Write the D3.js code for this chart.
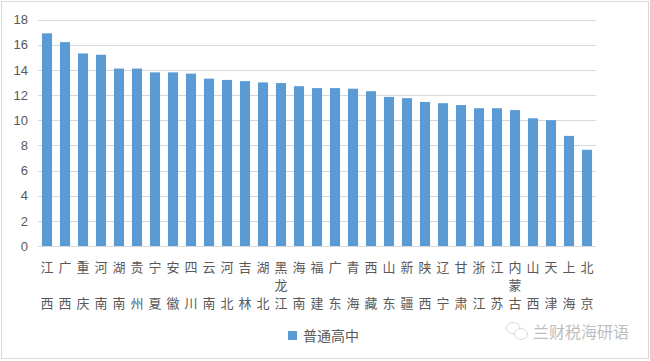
<!DOCTYPE html>
<html><head><meta charset="utf-8">
<script src="https://cdn.jsdelivr.net/npm/d3@7"></script>
<style>body{margin:0;background:#fff;}svg{display:block;font-family:"Noto Sans CJK SC","Microsoft YaHei",sans-serif;}</style>
</head><body><svg id="c" width="650" height="361"></svg>
<script>
const categories = ["江西","广西","重庆","河南","湖南","贵州","宁夏","安徽","四川","云南","河北","吉林","湖北","黑龙江","海南","福建","广东","青海","西藏","山东","新疆","陕西","辽宁","甘肃","浙江","江苏","内蒙古","山西","天津","上海","北京"];
const values = [16.9,16.2,15.3,15.2,14.1,14.1,13.8,13.8,13.7,13.3,13.2,13.1,13.0,12.95,12.7,12.55,12.55,12.5,12.3,11.85,11.75,11.45,11.35,11.2,10.95,10.95,10.8,10.15,10.0,8.75,7.65];
const yTicks = [0,2,4,6,8,10,12,14,16,18];
const seriesName = "普通高中";
const watermark = "兰财税海研语";

const svg = d3.select("#c");
svg.append("rect").attr("x",1.5).attr("y",1.5).attr("width",647).attr("height",357)
  .attr("fill","#fff").attr("stroke","#d9d9d9").attr("stroke-width",1);

const L=38, R=596, T=19.5, B=246;
const x = d3.scaleBand().domain(categories).range([L,R]).paddingInner(0.44).paddingOuter(0.22);
const y = d3.scaleLinear().domain([0,18]).range([B,T]);

const g = svg.append("g");
g.selectAll("line.grid").data(yTicks).join("line")
  .attr("x1",L).attr("x2",R).attr("y1",d=>Math.round(y(d))+0.5).attr("y2",d=>Math.round(y(d))+0.5)
  .attr("stroke","#d9d9d9").attr("stroke-width",1);

const yAxis = d3.axisLeft(y).tickValues(yTicks).tickSize(0).tickPadding(0);
const ya = svg.append("g").attr("transform",`translate(28,0)`).call(yAxis);
ya.select(".domain").remove();
ya.selectAll("text").attr("font-size",13).attr("fill","#595959").attr("font-family","'Liberation Sans',Arial,sans-serif");

g.selectAll("rect.bar").data(values).join("rect")
  .attr("x",(d,i)=>x(categories[i])).attr("width",x.bandwidth())
  .attr("y",d=>y(d)).attr("height",d=>B-y(d)).attr("fill","#5B9BD5");

// category labels: first char top line, last char bottom line, middle on middle line
const lab = svg.append("g");
categories.forEach(c=>{
  const cx = x(c)+x.bandwidth()/2;
  const chars = Array.from(c);
  const lines = chars.length===3 ? [272,290,308] : [272,308];
  chars.forEach((ch,j)=>{
    lab.append("text").attr("x",cx).attr("y",lines[j]).attr("text-anchor","middle")
      .attr("font-size",13).attr("fill","#595959").text(ch);
  });
});

// legend
svg.append("rect").attr("x",288).attr("y",331).attr("width",9).attr("height",9).attr("fill","#5B9BD5");
svg.append("text").attr("x",303).attr("y",341).attr("font-size",14).attr("fill","#595959").text(seriesName);

// watermark
const wm = svg.append("g").attr("opacity",0.55);
wm.append("ellipse").attr("cx",513).attr("cy",328).attr("rx",7).attr("ry",5.5).attr("fill","none").attr("stroke","#aaa").attr("stroke-width",0.8);
wm.append("ellipse").attr("cx",521).attr("cy",334).attr("rx",6.5).attr("ry",5.5).attr("fill","#fff").attr("stroke","#aaa").attr("stroke-width",0.8);
svg.append("text").attr("x",533).attr("y",338).attr("font-size",16).attr("fill","#bdbdbd").text(watermark);
</script></body></html>
